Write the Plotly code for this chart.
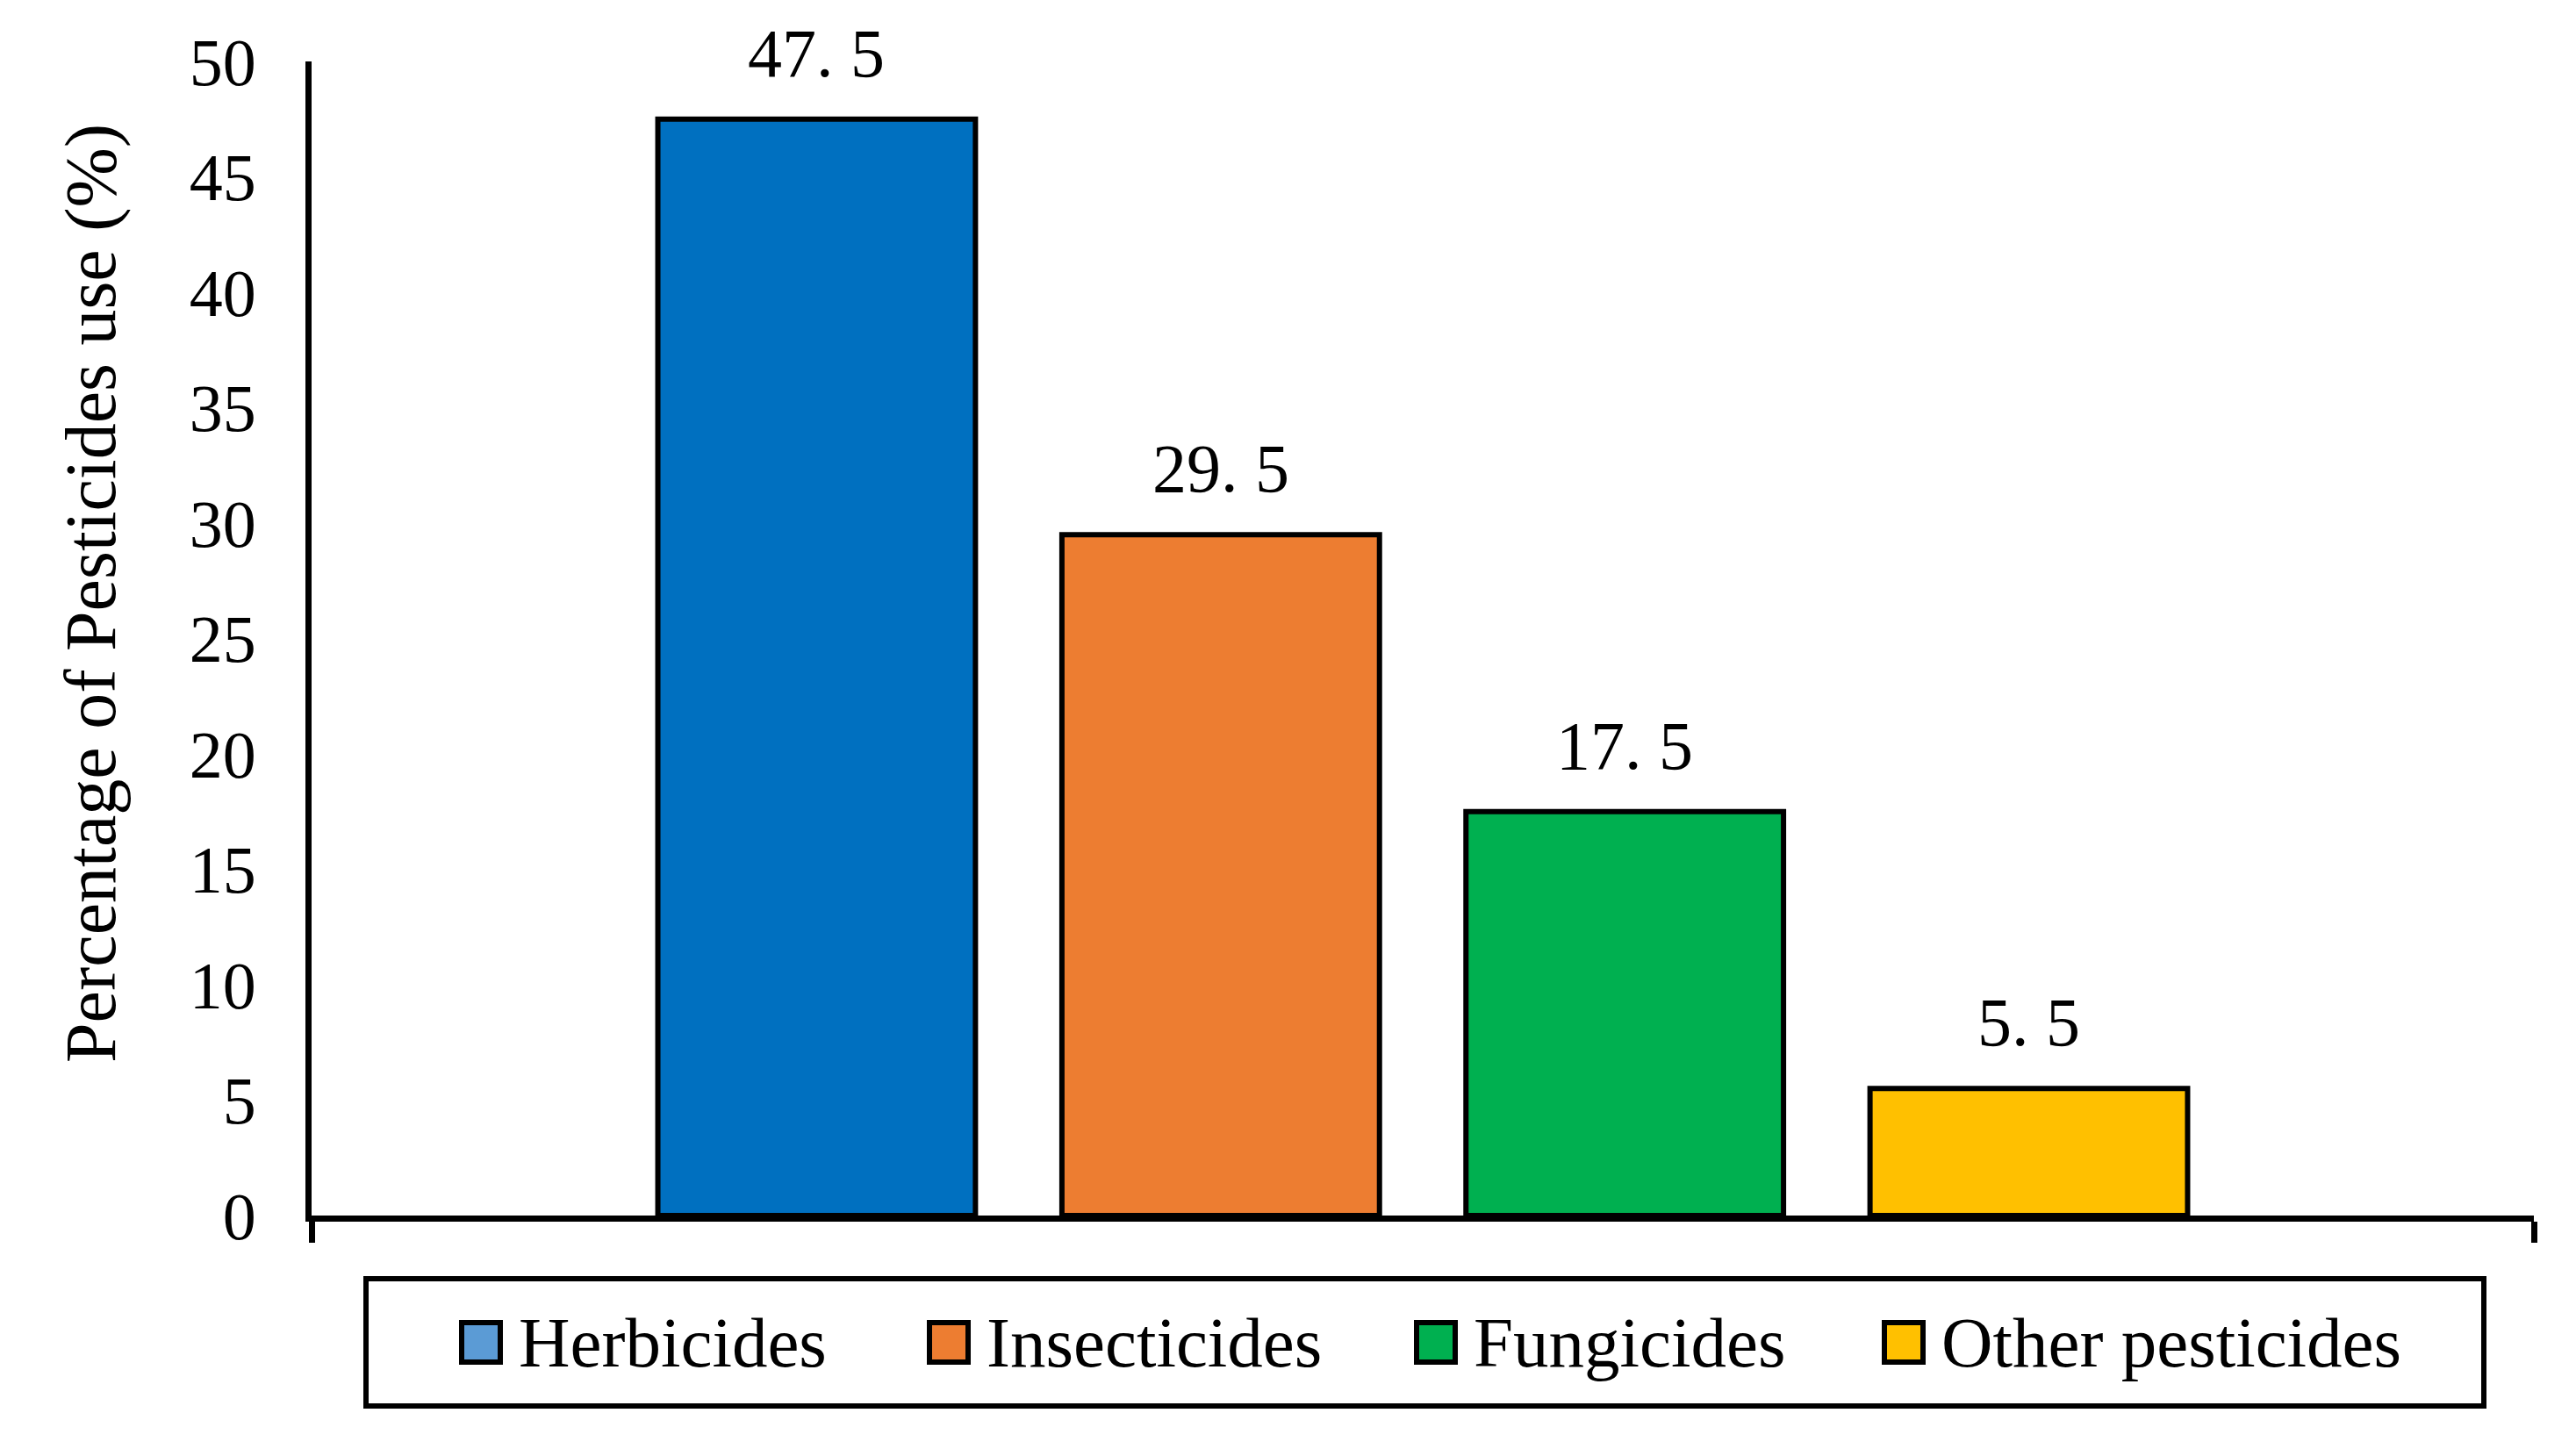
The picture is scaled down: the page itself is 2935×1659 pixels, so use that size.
import plotly.graph_objects as go

# ---- data ----
categories = ["Herbicides", "Insecticides", "Fungicides", "Other pesticides"]
values = [47.5, 29.5, 17.5, 5.5]
bar_colors = ["#0070C0", "#ED7D31", "#00B050", "#FFC000"]
legend_colors = ["#5B9BD5", "#ED7D31", "#00B050", "#FFC000"]
y_ticks = [0, 5, 10, 15, 20, 25, 30, 35, 40, 45, 50]
y_title = "Percentage of Pesticides use (%)"

# ---- layout constants (pixels in the screenshot; page body has an 8px margin) ----
OFF = 8
W, H = 2935 - 2 * OFF, 1659 - 2 * OFF
L, R, T, B = 355 - OFF, 2887 - OFF, 70 - OFF, 1385 - OFF
FONT = "Liberation Serif"
FS = 78


def px_x(px):
    return (px - OFF - L) / (R - L)


def px_y(py):
    return (B - (py - OFF)) / (B - T)


xpos = list(range(len(categories)))

fig = go.Figure()
fig.add_trace(go.Bar(
    x=xpos, y=values, width=0.786,
    marker=dict(color=bar_colors, line=dict(color="black", width=6)),
    showlegend=False, hoverinfo="skip",
))

annotations = []
# data labels
for xi, v in zip(xpos, values):
    annotations.append(dict(
        x=xi, y=v, xref="x", yref="y", text=f"{v:.1f}".replace(".", ". "),
        showarrow=False, yanchor="bottom", yshift=30,
        font=dict(family=FONT, size=FS, color="black"),
    ))

# y title
annotations.append(dict(
    x=px_x(103), y=px_y(676), xref="paper", yref="paper", text=y_title,
    textangle=-90, showarrow=False, xanchor="center", yanchor="middle",
    font=dict(family=FONT, size=82, color="black"),
))

shapes = []
# legend box
shapes.append(dict(type="rect", xref="paper", yref="paper",
                   x0=px_x(417), x1=px_x(2830), y0=px_y(1457), y1=px_y(1602),
                   line=dict(color="black", width=6), fillcolor="white"))
swatch_left = [523, 1056, 1611, 2144]
sw_top, sw_bot = 1504, 1555
for name, col, sl in zip(categories, legend_colors, swatch_left):
    shapes.append(dict(type="rect", xref="paper", yref="paper",
                       x0=px_x(sl + 3), x1=px_x(sl + 47),
                       y0=px_y(sw_top + 3), y1=px_y(sw_bot - 3),
                       line=dict(color="black", width=6), fillcolor=col))
    annotations.append(dict(
        x=px_x(sl + 66), y=px_y((sw_top + sw_bot) / 2), xref="paper", yref="paper",
        text=name, showarrow=False, xanchor="left", yanchor="middle",
        font=dict(family=FONT, size=81, color="black"),
    ))

fig.update_layout(
    width=W, height=H,
    margin=dict(l=L, r=W - R, t=T, b=H - B, pad=0),
    plot_bgcolor="white", paper_bgcolor="white",
    showlegend=False,
    annotations=annotations, shapes=shapes,
    xaxis=dict(range=[-1.25, 4.25], showgrid=False, zeroline=False,
               showline=True, linecolor="black", linewidth=7,
               tickvals=[-1.25, 4.25], ticks="outside", ticklen=24,
               tickwidth=7, tickcolor="black", showticklabels=False),
    yaxis=dict(range=[0, 50], tickvals=y_ticks, showgrid=False, zeroline=False,
               showline=True, linecolor="black", linewidth=7, ticks="",
               ticklabelstandoff=41,
               tickfont=dict(family=FONT, size=76, color="black")),
)

fig.write_html("out.html")
